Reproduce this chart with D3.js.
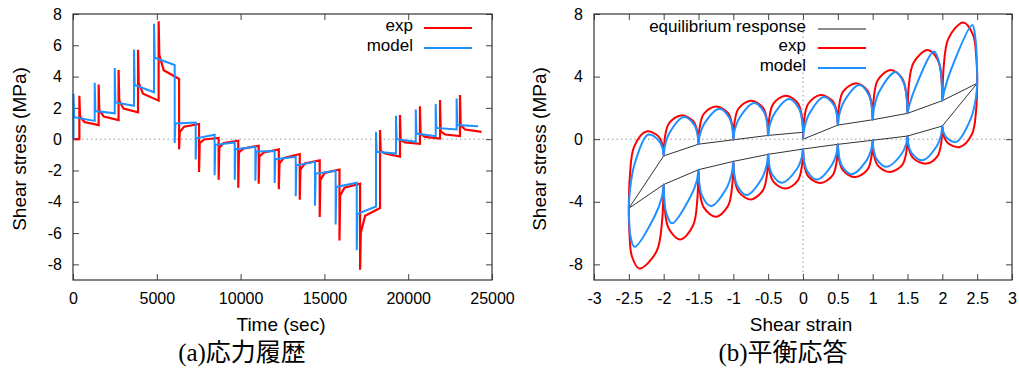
<!DOCTYPE html>
<html>
<head>
<meta charset="utf-8">
<script src="https://cdn.jsdelivr.net/npm/d3@7"></script>
<style>
  body { margin: 0; background: #fff; }
  text { font-family: "Liberation Sans", Arial, sans-serif; }
  text.caption { font-family: "Liberation Serif", "Noto Sans CJK JP", serif; }
</style>
</head>
<body>
<svg id="chart"></svg>
<script>
// ---- data ----
const timeTicks = [0, 5000, 10000, 15000, 20000, 25000];
const stressTicksA = [-8, -6, -4, -2, 0, 2, 4, 6, 8];
const strainTicks = [-3, -2.5, -2, -1.5, -1, -0.5, 0, 0.5, 1, 1.5, 2, 2.5, 3];
const stressTicksB = [-8, -4, 0, 4, 8];

// (a) stress history: one entry per strain step
const expStepTime = [380, 1530, 2720, 3880, 5110, 6330, 7520, 8690, 9860, 11080, 12280, 13530, 14720, 15900, 17130, 18320, 19510, 20700, 21900, 23090];
const expEndTime = 24380;
const expPeak = [2.78, 3.5, 4.42, 5.72, 7.54, -0.65, -2.1, -2.6, -3.1, -2.85, -3.2, -3.87, -4.98, -6.47, -8.35, 0.58, 1.54, 2.1, 2.5, 2.82];
const expEarly = [1.45, 1.85, 2.45, 3.6, 5.4, 0.45, -0.25, -0.55, -0.85, -1.1, -1.55, -1.95, -2.6, -3.6, -6.0, -0.75, -0.05, 0.35, 0.5, 0.9];
const expMid = [1.1, 1.45, 1.95, 2.9, 4.4, 0.8, -0.02, -0.25, -0.6, -0.85, -1.2, -1.55, -2.15, -3.1, -4.9, -0.92, -0.2, 0.15, 0.3, 0.62];
const expEnd = [0.9, 1.22, 1.71, 2.46, 3.85, 0.97, 0.08, -0.1, -0.42, -0.65, -0.95, -1.35, -1.94, -2.84, -4.4, -1.12, -0.3, 0.04, 0.2, 0.47];

const modelStepTime = [30, 1295, 2490, 3640, 4835, 6067, 7320, 8450, 9650, 10880, 12030, 13290, 14440, 15670, 16930, 18080, 19270, 20450, 21640, 22890];
const modelEndTime = 24170;
const modelPeak = [2.9, 3.6, 4.55, 5.73, 7.37, -0.25, -1.3, -2.3, -2.6, -2.65, -2.8, -3.65, -4.25, -5.45, -7.1, 0.47, 1.5, 1.9, 2.24, 2.6];
const modelEarly = [1.4, 1.8, 2.35, 3.46, 5.2, 1.0, 0.06, -0.36, -0.64, -0.79, -1.28, -1.67, -2.2, -3.05, -4.77, -0.81, 0.0, 0.36, 0.72, 0.9];
const modelEnd = [1.17, 1.65, 2.13, 3.0, 4.74, 1.07, 0.28, -0.21, -0.49, -0.75, -1.13, -1.45, -2.03, -2.78, -4.3, -0.92, -0.17, 0.19, 0.62, 0.83];

// (b) equilibrium response
const eqStrain = [0, 0.5, 1, 1.5, 2, 2.5, 2, 1.5, 1, 0.5, 0, -0.5, -1, -1.5, -2, -2.5, -2, -1.5, -1, -0.5, 0];
const eqStress = [0, 0.9, 1.24, 1.65, 2.46, 3.57, 0.84, 0.2, -0.07, -0.33, -0.63, -0.97, -1.42, -1.95, -2.9, -4.42, -1.07, -0.32, -0.04, 0.24, 0.44];

// (b) stress-strain loops, [strain, stress]
const expLoop = [
  [0, 0], [0.015, 1.18], [0.075, 2.26], [0.25, 2.82], [0.425, 2.44], [0.485, 1.71], [0.5, 0.9],
  [0.515, 2.02], [0.575, 3.04], [0.76, 3.57], [0.925, 3.10], [0.985, 2.22], [1.0, 1.24],
  [1.015, 2.58], [1.075, 3.78], [1.26, 4.42], [1.425, 3.87], [1.485, 2.81], [1.5, 1.65],
  [1.517, 3.35], [1.587, 4.89], [1.79, 5.70], [1.937, 5.05], [1.988, 3.82], [2.0, 2.46],
  [2.018, 4.56], [2.09, 6.46], [2.3, 7.46], [2.44, 6.68], [2.488, 5.20], [2.5, 3.57],
  [2.485, 1.86], [2.425, 0.31], [2.25, -0.5], [2.075, -0.23], [2.015, 0.28], [2.0, 0.84],
  [1.986, -0.17], [1.931, -1.08], [1.77, -1.56], [1.581, -1.21], [1.516, -0.54], [1.5, 0.2],
  [1.485, -0.77], [1.425, -1.64], [1.25, -2.1], [1.075, -1.69], [1.015, -0.92], [1.0, -0.07],
  [0.985, -1.06], [0.925, -1.95], [0.75, -2.42], [0.575, -2.0], [0.515, -1.21], [0.5, -0.33],
  [0.485, -1.37], [0.425, -2.31], [0.25, -2.8], [0.075, -2.37], [0.015, -1.54], [0, -0.63],
  [-0.015, -1.69], [-0.075, -2.65], [-0.25, -3.16], [-0.425, -2.72], [-0.485, -1.89], [-0.5, -0.97],
  [-0.515, -2.18], [-0.575, -3.27], [-0.75, -3.85], [-0.925, -3.36], [-0.985, -2.44], [-1.0, -1.42],
  [-1.015, -2.91], [-1.075, -4.25], [-1.25, -4.96], [-1.425, -4.36], [-1.485, -3.21], [-1.5, -1.95],
  [-1.516, -3.82], [-1.578, -5.52], [-1.76, -6.41], [-1.928, -5.71], [-1.986, -4.37], [-2.0, -2.9],
  [-2.021, -5.16], [-2.105, -7.20], [-2.35, -8.27], [-2.455, -7.50], [-2.491, -6.04], [-2.5, -4.42],
  [-2.485, -2.36], [-2.425, -0.49], [-2.25, 0.49], [-2.075, 0.18], [-2.015, -0.41], [-2.0, -1.07],
  [-1.985, 0.02], [-1.925, 1.0], [-1.75, 1.52], [-1.575, 1.15], [-1.515, 0.45], [-1.5, -0.32],
  [-1.485, 0.69], [-1.425, 1.61], [-1.25, 2.09], [-1.075, 1.66], [-1.015, 0.85], [-1.0, -0.04],
  [-0.985, 1.01], [-0.925, 1.96], [-0.75, 2.46], [-0.575, 2.02], [-0.515, 1.17], [-0.5, 0.24],
  [-0.485, 1.31], [-0.425, 2.27], [-0.25, 2.78], [-0.075, 2.31], [-0.015, 1.42], [0, 0.44]
];
const modelLoop = [
  [0, 0], [0.018, 0.68], [0.09, 1.62], [0.3, 2.7], [0.44, 2.2], [0.488, 1.51], [0.5, 0.9],
  [0.519, 1.54], [0.593, 2.44], [0.81, 3.46], [0.943, 2.84], [0.989, 1.99], [1.0, 1.24],
  [1.02, 2.01], [1.099, 3.08], [1.33, 4.3], [1.449, 3.56], [1.49, 2.55], [1.5, 1.65],
  [1.523, 2.12], [1.614, 3.31], [1.88, 5.6], [1.964, 4.72], [1.993, 3.53], [2.0, 2.46],
  [2.026, 3.04], [2.129, 4.49], [2.43, 7.3], [2.479, 6.26], [2.496, 4.84], [2.5, 3.57],
  [2.482, 2.64], [2.41, 1.33], [2.2, -0.17], [2.06, 0.11], [2.012, 0.5], [2.0, 0.84],
  [1.983, 0.29], [1.916, -0.47], [1.72, -1.35], [1.566, -0.92], [1.513, -0.33], [1.5, 0.2],
  [1.482, -0.29], [1.41, -0.98], [1.2, -1.77], [1.06, -1.29], [1.012, -0.65], [1.0, -0.07],
  [0.982, -0.61], [0.91, -1.37], [0.7, -2.24], [0.56, -1.71], [0.512, -0.98], [0.5, -0.33],
  [0.482, -0.89], [0.41, -1.68], [0.2, -2.58], [0.06, -2.03], [0.012, -1.29], [0, -0.63],
  [-0.018, -1.17], [-0.09, -1.92], [-0.3, -2.78], [-0.44, -2.27], [-0.488, -1.59], [-0.5, -0.97],
  [-0.519, -1.62], [-0.593, -2.53], [-0.81, -3.57], [-0.943, -2.97], [-0.989, -2.15], [-1.0, -1.42],
  [-1.02, -2.13], [-1.098, -3.13], [-1.325, -4.27], [-1.448, -3.62], [-1.49, -2.74], [-1.5, -1.95],
  [-1.523, -2.64], [-1.614, -3.67], [-1.88, -5.38], [-1.964, -4.69], [-1.993, -3.74], [-2.0, -2.9],
  [-2.025, -3.70], [-2.126, -4.89], [-2.42, -6.88], [-2.476, -6.19], [-2.495, -5.26], [-2.5, -4.42],
  [-2.484, -3.25], [-2.418, -1.6], [-2.225, 0.28], [-2.068, -0.1], [-2.014, -0.61], [-2.0, -1.07],
  [-1.983, -0.45], [-1.913, 0.42], [-1.71, 1.41], [-1.563, 0.93], [-1.513, 0.27], [-1.5, -0.32],
  [-1.482, 0.25], [-1.41, 1.04], [-1.2, 1.94], [-1.06, 1.39], [-1.012, 0.63], [-1.0, -0.04],
  [-0.982, 0.55], [-0.91, 1.37], [-0.7, 2.31], [-0.56, 1.73], [-0.512, 0.94], [-0.5, 0.24],
  [-0.482, 0.82], [-0.41, 1.63], [-0.2, 2.56], [-0.06, 1.97], [-0.012, 1.16], [0, 0.44]
];

const RED = "#ff0000", BLUE = "#1e90ff";

const svg = d3.select("#chart").attr("width", 1019).attr("height", 372);
svg.append("rect").attr("width", 1019).attr("height", 372).attr("fill", "#fff");

// builds the step/relaxation polyline for the time history
function history(times, endTime, peaks, early, mid, ends) {
  const pts = [[0, 0]];
  let prev = 0;
  times.forEach((t, i) => {
    const next = i + 1 < times.length ? times[i + 1] : endTime;
    pts.push([t, prev], [t, peaks[i]], [t + 40, early[i]]);
    if (mid) pts.push([t + 300, mid[i]]);
    pts.push([next, ends[i]]);
    prev = ends[i];
  });
  return pts;
}

function frame(x, y, xt, yt) {
  const g = svg.append("g");
  const [x0, x1] = x.range(), [y0, y1] = y.range();
  g.append("line")
    .attr("x1", x0).attr("x2", x1).attr("y1", y(0)).attr("y2", y(0))
    .attr("stroke", "#999").attr("stroke-dasharray", "1.5,3");

  const fmt = d => String(d);
  const style = sel => {
    sel.select(".domain").remove();
    sel.selectAll(".tick line").attr("stroke", "#444");
    sel.selectAll("text").attr("fill", "#000").style("font-size", "16px");
  };
  g.append("g").attr("transform", `translate(0,${y0})`)
    .call(d3.axisBottom(x).tickValues(xt).tickSize(-6).tickSizeOuter(0).tickPadding(13).tickFormat(fmt)).call(style);
  g.append("g").attr("transform", `translate(0,${y1})`)
    .call(d3.axisTop(x).tickValues(xt).tickSize(-6).tickSizeOuter(0).tickFormat(() => "")).call(style);
  g.append("g").attr("transform", `translate(${x0},0)`)
    .call(d3.axisLeft(y).tickValues(yt).tickSize(-6).tickSizeOuter(0).tickPadding(11).tickFormat(fmt)).call(style);
  g.append("g").attr("transform", `translate(${x1},0)`)
    .call(d3.axisRight(y).tickValues(yt).tickSize(-6).tickSizeOuter(0).tickFormat(() => "")).call(style);
  return g;
}

function border(x, y) {
  const [x0, x1] = x.range(), [y0, y1] = y.range();
  svg.append("rect").attr("x", x0).attr("y", y1).attr("width", x1 - x0).attr("height", y0 - y1)
    .attr("fill", "none").attr("stroke", "#333").attr("stroke-width", 1.2);
}

function legend(items, textRight, lineX0, lineX1) {
  items.forEach(it => {
    svg.append("text").attr("x", textRight).attr("y", it.y).attr("text-anchor", "end")
      .attr("font-size", 17).text(it.label);
    svg.append("line").attr("x1", lineX0).attr("x2", lineX1).attr("y1", it.y - 3).attr("y2", it.y - 3)
      .attr("stroke", it.color).attr("stroke-width", it.w);
  });
}

// ---- (a) stress history ----
const xa = d3.scaleLinear().domain([0, 25000]).range([73, 492]);
const ya = d3.scaleLinear().domain([-9, 8]).range([280, 14]);
const ga = frame(xa, ya, timeTicks, stressTicksA);
const lineA = d3.line().x(d => xa(d[0])).y(d => ya(d[1]));

ga.append("path").datum(history(expStepTime, expEndTime, expPeak, expEarly, expMid, expEnd))
  .attr("fill", "none").attr("stroke", RED).attr("stroke-width", 2.2).attr("d", lineA);
ga.append("path").datum(history(modelStepTime, modelEndTime, modelPeak, modelEarly, null, modelEnd))
  .attr("fill", "none").attr("stroke", BLUE).attr("stroke-width", 2).attr("d", lineA);
border(xa, ya);

legend([
  { label: "exp", y: 31, color: RED, w: 2 },
  { label: "model", y: 51, color: BLUE, w: 2 }
], 413, 424, 472);

svg.append("text").attr("transform", "translate(26,149) rotate(-90)")
  .attr("text-anchor", "middle").attr("font-size", 19).text("Shear stress (MPa)");
svg.append("text").attr("x", 281).attr("y", 331).attr("text-anchor", "middle")
  .attr("font-size", 19).text("Time (sec)");

// ---- (b) equilibrium response ----
const xb = d3.scaleLinear().domain([-3, 3]).range([594, 1012]);
const yb = d3.scaleLinear().domain([-9, 8]).range([280, 14]);
const gb = frame(xb, yb, strainTicks, stressTicksB);
gb.append("line").attr("x1", xb(0)).attr("x2", xb(0)).attr("y1", 14).attr("y2", 280)
  .attr("stroke", "#999").attr("stroke-dasharray", "1.5,3");

const lineB = d3.line().x(d => xb(d[0])).y(d => yb(d[1]));
const loopB = d3.line().x(d => xb(d[0])).y(d => yb(d[1])).curve(d3.curveCatmullRom.alpha(0.5));

gb.append("path").datum(eqStrain.map((s, i) => [s, eqStress[i]]))
  .attr("fill", "none").attr("stroke", "#333").attr("stroke-width", 1).attr("d", lineB);
gb.append("path").datum(expLoop)
  .attr("fill", "none").attr("stroke", RED).attr("stroke-width", 2).attr("d", loopB);
gb.append("path").datum(modelLoop)
  .attr("fill", "none").attr("stroke", BLUE).attr("stroke-width", 2).attr("d", loopB);
border(xb, yb);

legend([
  { label: "equilibrium response", y: 32, color: "#666", w: 1.5 },
  { label: "exp", y: 51, color: RED, w: 2 },
  { label: "model", y: 71, color: BLUE, w: 2 }
], 806, 818, 866);

svg.append("text").attr("transform", "translate(546,149) rotate(-90)")
  .attr("text-anchor", "middle").attr("font-size", 19).text("Shear stress (MPa)");
svg.append("text").attr("x", 801).attr("y", 331).attr("text-anchor", "middle")
  .attr("font-size", 19).text("Shear strain");

// captions
svg.append("text").attr("class", "caption").attr("x", 242).attr("y", 361).attr("text-anchor", "middle")
  .attr("font-size", 25).text("(a)応力履歴");
svg.append("text").attr("class", "caption").attr("x", 783).attr("y", 361).attr("text-anchor", "middle")
  .attr("font-size", 25).text("(b)平衡応答");
</script>
</body>
</html>
